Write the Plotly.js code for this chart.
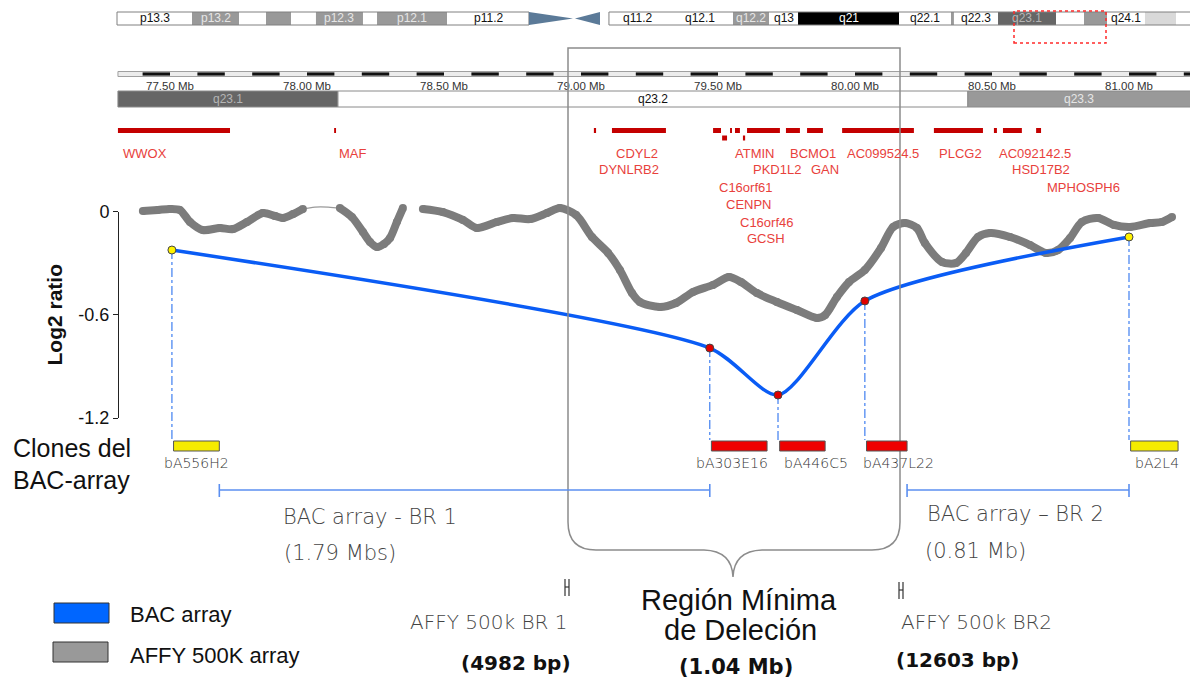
<!DOCTYPE html>
<html>
<head>
<meta charset="utf-8">
<script src="https://cdn.plot.ly/plotly-3.0.1.min.js"></script>
<style>
  html, body { margin: 0; padding: 0; background: #fff; }
  #chart { width: 1190px; height: 684px; }
</style>
</head>
<body>
<div id="chart"></div>
<script>
// ---------------- data ----------------
// AFFY 500K smoothed log2 ratio, chr16 q23 (position in Mb)
const affyMbA  = [77.401,77.456,77.500,77.536,77.573,77.620,77.682,77.730,77.781,77.839,77.883,77.912,77.949,77.985];
const affyLogA = [0.003,0.009,0.015,0.009,-0.061,-0.108,-0.096,-0.102,-0.061,-0.009,-0.026,-0.038,-0.015,0.015];
const affyMbGap  = [77.985,78.029,78.077,78.120];
const affyLogGap = [0.015,0.026,0.026,0.020];
const affyMbB  = [78.120,78.164,78.204,78.230,78.255,78.281,78.303,78.328,78.350];
const affyLogB = [0.020,-0.032,-0.119,-0.177,-0.206,-0.189,-0.154,-0.061,0.020];
const affyMbC  = [78.423,78.496,78.569,78.620,78.693,78.752,78.814,78.876,78.923,78.982,
                  79.040,79.099,79.142,79.186,79.215,79.288,79.347,79.409,79.482,79.540,
                  79.584,79.642,79.715,79.788,79.861,79.891,79.934,79.978,80.036,80.095,
                  80.139,80.182,80.226,80.255,80.318,80.369,80.405,80.449,80.493,80.566,
                  80.639,80.697,80.741,80.785,80.828,80.887,80.945,81.004,81.077,81.120,81.157];
const affyLogC = [0.015,-0.003,-0.049,-0.096,-0.061,-0.038,-0.044,-0.009,0.020,-0.020,
                  -0.148,-0.241,-0.340,-0.474,-0.526,-0.555,-0.532,-0.468,-0.427,-0.381,
                  -0.410,-0.474,-0.526,-0.573,-0.619,-0.602,-0.497,-0.410,-0.340,-0.212,
                  -0.090,-0.067,-0.096,-0.183,-0.294,-0.299,-0.241,-0.148,-0.125,-0.148,
                  -0.195,-0.241,-0.224,-0.154,-0.061,-0.038,-0.078,-0.090,-0.067,-0.061,-0.032];

// BAC-array clones
const cloneNames = ['bA556H2','bA303E16','bA446C5','bA437L22','bA2L4'];
const cloneStart = [77.507, 79.470, 79.719, 80.036, 81.000];
const cloneEnd   = [77.680, 79.679, 79.891, 80.190, 81.179];
const cloneLog2  = [-0.224, -0.794, -1.067, -0.520, -0.148];
const cloneLost  = [false, true, true, true, false];

// genes (Mb); row 1 = second line of the track
const geneStart = [77.310,78.099,79.047,79.113,79.482,79.515,79.544,79.562,79.591,79.606,79.748,79.825,79.953,80.288,80.507,80.540,80.661];
const geneEnd   = [77.719,78.106,79.055,79.310,79.511,79.533,79.551,79.580,79.599,79.726,79.799,79.883,80.215,80.467,80.518,80.609,80.679];
const geneRow   = [0,0,0,0,0,1,0,0,1,0,0,0,0,0,0,0,0];
const geneNames = ['WWOX','MAF','CDYL2','DYNLRB2','ATMIN','BCMO1','AC099524.5','PLCG2','AC092142.5',
                   'PKD1L2','GAN','HSD17B2','MPHOSPH6','C16orf61','CENPN','C16orf46','GCSH'];

// Mb ruler ticks
const mbTicks    = [77.5, 78.0, 78.5, 79.0, 79.5, 80.0, 80.5, 81.0];
const mbTickText = ['77.50 Mb','78.00 Mb','78.50 Mb','79.00 Mb','79.50 Mb','80.00 Mb','80.50 Mb','81.00 Mb'];

// sub-bands of the zoomed region
const subBandName  = ['q23.1','q23.2','q23.3'];
const subBandStart = [77.310, 78.113, 80.412];
const subBandEnd   = [78.113, 80.412, 81.260];
const subBandStain = ['gpos75','gneg','gpos50'];

// chromosome 16 ideogram (ideogram position units)
const bandName  = ['p13.3','p13.2','p13.13','p13.12','p13.11','p12.3','p12.2','p12.1','p11.2',
                   'q11.2','q12.1','q12.2','q13','q21','q22.1','q22.2','q22.3','q23.1','q23.2','q23.3','q24.1','q24.2','q24.3'];
const bandStart = [0,6.62,10.77,13.15,15.36,17.56,21.71,22.95,29.13,
                   43.42,48.46,54.37,57.55,60.11,69.02,73.61,73.87,77.76,82.88,85.35,87.38,90.73,93.47];
const bandEnd   = [6.62,10.77,13.15,15.36,17.56,21.71,22.95,29.13,36.36,
                   48.46,54.37,57.55,60.11,69.02,73.61,73.87,77.76,82.88,85.35,87.38,90.73,93.47,96.0];
const bandStain = ['gneg','gpos50','gneg','gpos50','gneg','gpos50','gneg','gpos50','gneg',
                   'gneg','gneg','gpos50','gneg','gpos100','gneg','gpos50','gneg','gpos75','gneg','gpos50','gneg','gpos25','gneg'];
const bandLabelled = ['p13.3','p13.2','p12.3','p12.1','p11.2','q11.2','q12.1','q12.2','q13','q21','q22.1','q22.3','q23.1','q24.1'];
const centromere = [36.36, 40.25, 40.42, 42.63];
const zoomWindow = [79.17, 87.29];

// ---------------- geometry ----------------
const W = 1190, H = 684;
const PX_PER_MB = 274, MB_AT_170 = 77.5;           // Mb axis scale
const Y0 = 211.5, PX_PER_LOG = 172;                 // log2 axis scale
const IDEO_PX = 11.33, IDEO_X0 = 117;               // ideogram scale
const xRange = [MB_AT_170 - 170 / PX_PER_MB, MB_AT_170 + (W - 170) / PX_PER_MB];
const yRange = [(Y0 - H) / PX_PER_LOG, Y0 / PX_PER_LOG];
const x2Range = [-IDEO_X0 / IDEO_PX, (W - IDEO_X0) / IDEO_PX];
const fx = p => p / W;
const fy = p => 1 - p / H;
const logAt = p => (Y0 - p) / PX_PER_LOG;
const viewStart = 77.31;

const ARIAL = 'Liberation Sans, Arial, sans-serif';
const GOTHIC = 'DejaVu Sans, sans-serif';
const stainFill = {gneg:'#ffffff', gpos25:'#d9d9d9', gpos50:'#999999', gpos75:'#666666', gpos100:'#000000'};
const stainText = {gneg:'#111111', gpos25:'#111111', gpos50:'#e6e6e6', gpos75:'#b5b5b5', gpos100:'#ffffff'};

const shapes = [];
const annotations = [];
function txt(text, x, y, size, o) {
  o = o || {};
  annotations.push({
    text: text, x: fx(x), y: fy(y), xref: 'paper', yref: 'paper', showarrow: false,
    xanchor: o.anchor || 'center', yanchor: 'middle',
    font: {family: o.family || ARIAL, size: size, color: o.color || '#111', weight: o.weight || 'normal'}
  });
}

// ---- chromosome ideogram ----
bandName.forEach((n, i) => {
  shapes.push({type:'rect', xref:'x2', yref:'paper', x0:bandStart[i], x1:bandEnd[i], y0:fy(25), y1:fy(12),
               fillcolor: stainFill[bandStain[i]], line:{width:0}});
  if (bandLabelled.includes(n)) {
    annotations.push({text:n, xref:'x2', yref:'paper', x:(bandStart[i] + bandEnd[i]) / 2, y:fy(18.5),
      showarrow:false, xanchor:'center', yanchor:'middle',
      font:{family:ARIAL, size:12, color: stainText[bandStain[i]]}});
  }
});
shapes.push({type:'rect', xref:'x2', yref:'paper', x0:bandStart[0], x1:centromere[0], y0:fy(25), y1:fy(12),
             line:{color:'#808080', width:1}});
shapes.push({type:'rect', xref:'x2', yref:'paper', x0:bandStart[9], x1:bandEnd[bandEnd.length - 1], y0:fy(25), y1:fy(12),
             line:{color:'#808080', width:1}});
shapes.push({type:'path', xref:'x2', yref:'paper', fillcolor:'#5b7a98', line:{width:0},
             path:`M ${centromere[0]},${fy(12)} L ${centromere[1]},${fy(18.5)} L ${centromere[0]},${fy(25)} Z`});
shapes.push({type:'path', xref:'x2', yref:'paper', fillcolor:'#5b7a98', line:{width:0},
             path:`M ${centromere[2]},${fy(18.5)} L ${centromere[3]},${fy(12)} L ${centromere[3]},${fy(25)} Z`});
shapes.push({type:'rect', xref:'x2', yref:'paper', x0:zoomWindow[0], x1:zoomWindow[1], y0:fy(43), y1:fy(11),
             line:{color:'#ff2a2a', width:1.5, dash:'dot'}});

// ---- Mb ruler ----
shapes.push({type:'rect', xref:'x', yref:'paper', x0:viewStart, x1:xRange[1] + 0.1, y0:fy(76.5), y1:fy(71.5),
             fillcolor:'#ececec', line:{color:'#a0a0a0', width:1}});
for (let t = 77.4; t < xRange[1]; t += 0.2) {
  shapes.push({type:'rect', xref:'x', yref:'paper', x0:t, x1:t + 0.1, y0:fy(75.6), y1:fy(72.4),
               fillcolor:'#111', line:{width:0}});
}

// ---- sub-band bar ----
subBandName.forEach((n, i) => {
  shapes.push({type:'rect', xref:'x', yref:'paper', x0:subBandStart[i], x1:subBandEnd[i], y0:fy(107), y1:fy(91),
               fillcolor: stainFill[subBandStain[i]], line:{color:'#8a8a8a', width:1}});
  const a = Math.max(subBandStart[i], viewStart), b = Math.min(subBandEnd[i], xRange[1]);
  annotations.push({text:n, xref:'x', yref:'paper', x:(a + b) / 2, y:fy(99), showarrow:false,
    xanchor:'center', yanchor:'middle', font:{family:ARIAL, size:12, color: stainText[subBandStain[i]]}});
});

// ---- gene track ----
geneStart.forEach((s, i) => {
  const top = geneRow[i] === 0 ? 128 : 135.5;
  shapes.push({type:'rect', xref:'x', yref:'paper', x0:s, x1:geneEnd[i], y0:fy(top + 5), y1:fy(top),
               fillcolor:'#c40000', line:{width:0}});
});
const geneLabelPos = [[145,153],[353,153],[637,153],[629,170],[754,153],[813,153],[883,153],[960,153],[1035,153],
                      [777,170],[825,170],[1041,170],[1083,187],[745,187],[749,204],[766,222],[766,239]];
geneNames.forEach((n, i) => txt(n, geneLabelPos[i][0], geneLabelPos[i][1], 13, {color:'#e8413c'}));

// ---- minimal deletion region box with brace ----
{
  const P = (x, y) => `${fx(x)},${fy(y)}`;
  shapes.push({type:'path', xref:'paper', yref:'paper', line:{color:'#8c8c8c', width:1.5},
    path:`M ${P(568,48)} L ${P(900,48)} L ${P(900,522)} Q ${P(900,550)} ${P(872,550)} L ${P(762,550)} ` +
         `Q ${P(734,551)} ${P(733,577)} Q ${P(732,551)} ${P(704,550)} L ${P(596,550)} ` +
         `Q ${P(568,550)} ${P(568,522)} Z`});
}

// ---- clone bars, drop lines, labels ----
const cloneLabelX = [196, 732, 816, 898, 1157];
cloneNames.forEach((n, i) => {
  shapes.push({type:'line', xref:'x', yref:'y', x0:cloneStart[i], x1:cloneStart[i], y0:cloneLog2[i], y1:logAt(440),
               line:{color:'#3f7ff0', width:1.2, dash:'dashdot'}, layer:'below'});
  shapes.push({type:'rect', xref:'x', yref:'paper', x0:cloneStart[i] + 0.006, x1:cloneEnd[i], y0:fy(451), y1:fy(441),
               fillcolor: cloneLost[i] ? '#ee0000' : '#f5eb00', line:{color:'#555', width:1}});
  txt(n, cloneLabelX[i], 463, 14, {family:GOTHIC, color:'#333', weight:300});
});

// ---- BAC breakpoint ranges ----
[[cloneEnd[0], cloneStart[1]], [cloneEnd[3], cloneStart[4]]].forEach(r => {
  shapes.push({type:'line', xref:'x', yref:'paper', x0:r[0], x1:r[1], y0:fy(490), y1:fy(490), line:{color:'#5b8ff0', width:1.6}});
  r.forEach(v => shapes.push({type:'line', xref:'x', yref:'paper', x0:v, x1:v, y0:fy(484), y1:fy(497),
                              line:{color:'#5b8ff0', width:1.6}}));
});

// ---- AFFY breakpoint marks ----
[[567, 579], [901, 582]].forEach(([cx, top]) => {
  const col = {color:'#333', width:1.2};
  shapes.push({type:'line', xref:'paper', yref:'paper', x0:fx(cx - 2), x1:fx(cx - 2), y0:fy(top), y1:fy(top + 17), line:col});
  shapes.push({type:'line', xref:'paper', yref:'paper', x0:fx(cx + 2), x1:fx(cx + 2), y0:fy(top), y1:fy(top + 17), line:col});
  shapes.push({type:'line', xref:'paper', yref:'paper', x0:fx(cx - 2), x1:fx(cx + 2), y0:fy(top + 8), y1:fy(top + 8), line:col});
});

// ---- texts ----
txt('Clones del', 11, 448, 25, {anchor:'left'});
txt('BAC-array', 11, 480, 25, {anchor:'left'});
txt('BAC array - BR 1', 370, 517, 21, {family:GOTHIC, color:'#444', weight:300});
txt('(1.79 Mbs)', 340, 553, 21, {family:GOTHIC, color:'#444', weight:300});
txt('BAC array \u2013 BR 2', 1015, 514, 21, {family:GOTHIC, color:'#444', weight:300});
txt('(0.81 Mb)', 975, 551, 21, {family:GOTHIC, color:'#444', weight:300});
txt('AFFY 500k BR 1', 488, 622, 20, {family:GOTHIC, color:'#444', weight:300});
txt('AFFY 500k BR2', 976, 622, 20, {family:GOTHIC, color:'#444', weight:300});
txt('(4982 bp)', 516, 663, 20, {family:GOTHIC, color:'#111', weight:'bold'});
txt('(12603 bp)', 957, 660, 20, {family:GOTHIC, color:'#111', weight:'bold'});
txt('(1.04 Mb)', 736, 667, 21, {family:GOTHIC, color:'#111', weight:'bold'});
txt('Región Mínima', 739, 600, 29);
txt('de Deleción', 740, 630, 29);

// ---- legend ----
shapes.push({type:'rect', xref:'paper', yref:'paper', x0:fx(54), x1:fx(109), y0:fy(623), y1:fy(603),
             fillcolor:'#0066ff', line:{color:'#333', width:1}});
shapes.push({type:'rect', xref:'paper', yref:'paper', x0:fx(53), x1:fx(108), y0:fy(662), y1:fy(642),
             fillcolor:'#999999', line:{color:'#333', width:1}});
txt('BAC array', 128, 614, 22, {anchor:'left'});
txt('AFFY 500K array', 128, 655, 22, {anchor:'left'});

// ---------------- traces ----------------
const grey = '#7c7c7c';
const affyThick = (x, y) => ({type:'scatter', mode:'lines+markers', x:x, y:y, xaxis:'x', yaxis:'y',
  line:{color:grey, width:8, shape:'spline', smoothing:0.8}, marker:{color:grey, size:8}, hoverinfo:'skip', showlegend:false});

const traces = [
  {type:'scatter', mode:'lines', x:affyMbGap, y:affyLogGap, xaxis:'x', yaxis:'y',
   line:{color:'#9a9a9a', width:1.3, shape:'spline'}, hoverinfo:'skip', showlegend:false},
  affyThick(affyMbA, affyLogA),
  affyThick(affyMbB, affyLogB),
  affyThick(affyMbC, affyLogC),
  {type:'scatter', mode:'lines+markers', x:cloneStart, y:cloneLog2, xaxis:'x', yaxis:'y',
   line:{color:'#0a5cf5', width:3.5, shape:'spline', smoothing:0.7},
   marker:{size:8, color:cloneLost.map(l => l ? '#e00000' : '#fff200'), line:{color:'#444', width:1}},
   hoverinfo:'skip', showlegend:false},
  {type:'scatter', mode:'markers', x:[], y:[], xaxis:'x', yaxis:'y2', showlegend:false},
  {type:'scatter', mode:'markers', x:[], y:[], xaxis:'x2', yaxis:'y', showlegend:false}
];

const layout = {
  width: W, height: H,
  margin: {l:0, r:0, t:0, b:0},
  paper_bgcolor: '#ffffff', plot_bgcolor: 'rgba(0,0,0,0)',
  showlegend: false,
  xaxis: {domain:[0,1], range:xRange, anchor:'free', position:fy(77), side:'bottom',
          showgrid:false, zeroline:false, showline:false, ticks:'', ticklen:0,
          tickmode:'array', tickvals:mbTicks, ticktext:mbTickText,
          tickfont:{family:ARIAL, size:11.5, color:'#333'}, fixedrange:true},
  xaxis2: {domain:[0,1], range:x2Range, overlaying:'x', visible:false, anchor:'y'},
  yaxis: {domain:[0,1], range:yRange, visible:false, fixedrange:true},
  yaxis2: {domain:[fy(418), fy(Y0)], range:[-1.2, 0], anchor:'free', position:fx(118),
           showline:true, linecolor:'#222', linewidth:1.2, ticks:'outside', ticklen:5, tickcolor:'#222',
           tickmode:'array', tickvals:[0, -0.6, -1.2], ticktext:['0','-0.6','-1.2'],
           tickfont:{family:ARIAL, size:18, color:'#111'}, showgrid:false, zeroline:false,
           title:{text:'Log2 ratio', font:{family:ARIAL, size:21, color:'#111', weight:'bold'}, standoff:8}},
  shapes: shapes,
  annotations: annotations
};

Plotly.newPlot('chart', traces, layout, {staticPlot:true, displayModeBar:false});
</script>
</body>
</html>
